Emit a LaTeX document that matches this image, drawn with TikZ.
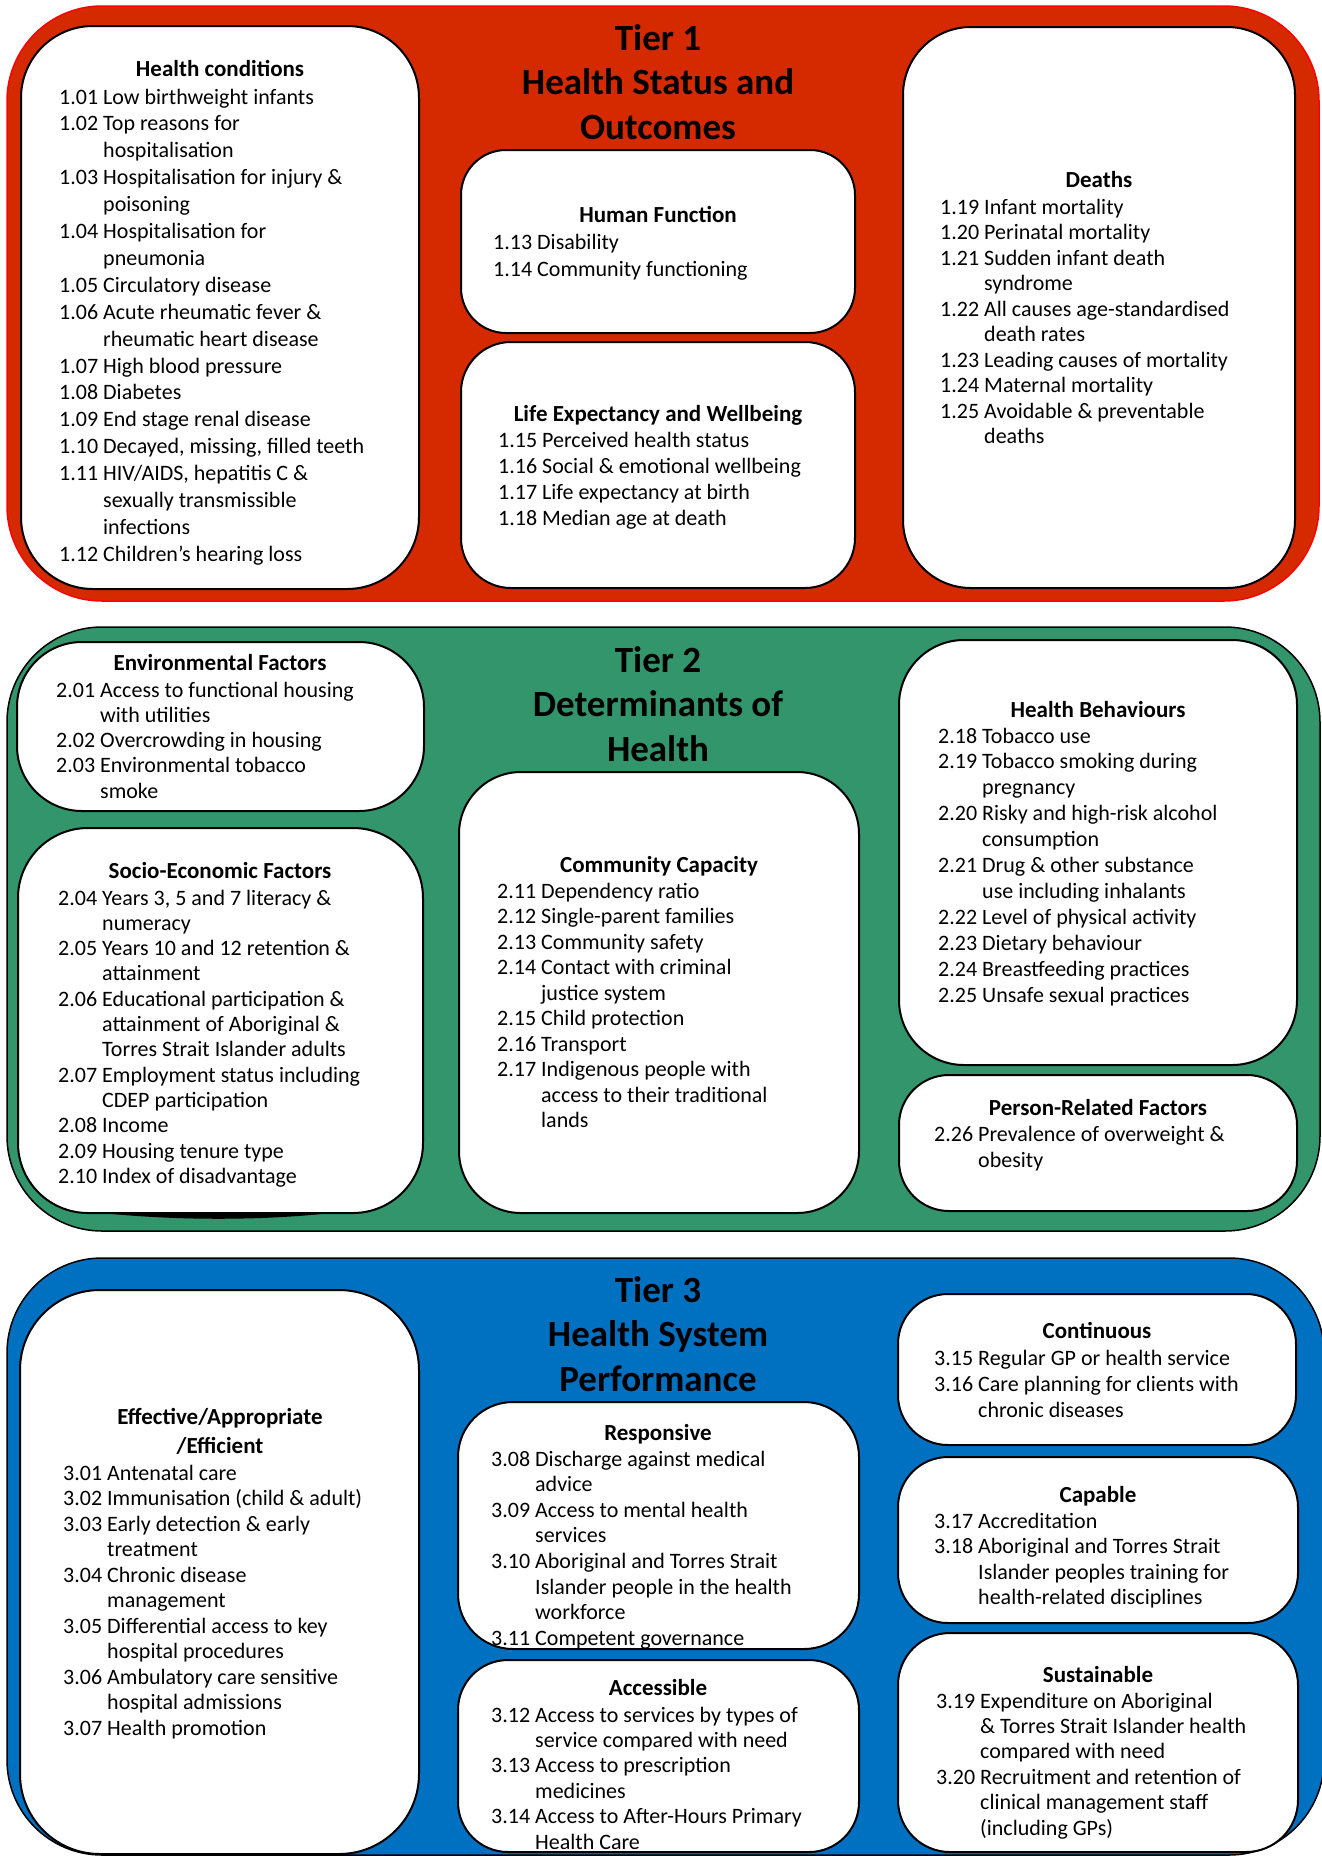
\documentclass[tikz,border=0pt]{standalone}
\usepackage{fontspec}
\setmainfont{Carlito}

\definecolor{tierred}{RGB}{213,41,0}
\definecolor{tiergreen}{RGB}{51,149,108}
\definecolor{tierblue}{RGB}{0,112,192}

\newcommand{\ilist}[1]{\begin{tabular}[t]{@{}l@{\hspace{5pt}}l@{}}#1\end{tabular}}
\newcommand{\stack}[1]{\begin{tabular}[t]{@{}c@{}}#1\end{tabular}}

\begin{document}
\begin{tikzpicture}[x=1pt,y=-1pt,
  tier/.style={line width=1.5pt,rounded corners=95pt},
  panel/.style={draw=black,fill=white,line width=2pt},
  head/.style={anchor=base,inner sep=0pt,font=\bfseries\fontsize{23}{29}\selectfont},
  items/.style={anchor=base west,inner sep=0pt,font=\fontsize{22}{#1}\selectfont},
  items/.default=25.5,
  title/.style={anchor=base,inner sep=0pt,font=\bfseries\fontsize{37}{44.5}\selectfont}]
  \useasboundingbox (0,0) rectangle (1322,1856);

  \draw[tier,fill=tierred,draw=red] (7,6) rectangle (1319,601);
  \draw[tier,fill=tiergreen,draw=black] (7,627) rectangle (1320,1231);
  \draw[tier,fill=tierblue,draw=black] (7,1258) rectangle (1324,1855);

  \node[title] (t1) at (658,50) {\stack{Tier 1\\Health Status and\\Outcomes}};
  \node[title] (t2) at (658,672) {\stack{Tier 2\\Determinants of\\Health}};
  \node[title] (t3) at (658,1302) {\stack{Tier 3\\Health System\\Performance}};

  % tier 1
  \draw[panel,rounded corners=72pt] (21,26) rectangle (419,589);
  \node[head] (hch) at (220,76) {Health conditions};
  \node[items=26.9] (hcl) at (59,104) {\ilist{
    1.01 & Low birthweight infants\\
    1.02 & Top reasons for\\
         & hospitalisation\\
    1.03 & Hospitalisation for injury \&\\
         & poisoning\\
    1.04 & Hospitalisation for\\
         & pneumonia\\
    1.05 & Circulatory disease\\
    1.06 & Acute rheumatic fever \&\\
         & rheumatic heart disease\\
    1.07 & High blood pressure\\
    1.08 & Diabetes\\
    1.09 & End stage renal disease\\
    1.10 & Decayed, missing, filled teeth\\
    1.11 & HIV/AIDS, hepatitis C \&\\
         & sexually transmissible\\
         & infections\\
    1.12 & Children's hearing loss}};

  \draw[panel,rounded corners=45pt] (461,150) rectangle (855,333);
  \node[head] (hfh) at (658,222) {Human Function};
  \node[items=27] (hfl) at (493,249) {\ilist{
    1.13 & Disability\\
    1.14 & Community functioning}};

  \draw[panel,rounded corners=50pt] (461,342) rectangle (855,588);
  \node[head] (leh) at (658,421) {Life Expectancy and Wellbeing};
  \node[items=26] (lel) at (498,447) {\ilist{
    1.15 & Perceived health status\\
    1.16 & Social \& emotional wellbeing\\
    1.17 & Life expectancy at birth\\
    1.18 & Median age at death}};

  \draw[panel,rounded corners=68pt] (903,27) rectangle (1295,588);
  \node[head] (dth) at (1099,187) {Deaths};
  \node[items=25.5] (dtl) at (940,214) {\ilist{
    1.19 & Infant mortality\\
    1.20 & Perinatal mortality\\
    1.21 & Sudden infant death\\
         & syndrome\\
    1.22 & All causes age-standardised\\
         & death rates\\
    1.23 & Leading causes of mortality\\
    1.24 & Maternal mortality\\
    1.25 & Avoidable \& preventable\\
         & deaths}};

  % tier 2
  \draw[panel,rounded corners=65pt] (17,642) rectangle (424,811);
  \node[head] (enh) at (220,670) {Environmental Factors};
  \node[items=25.3] (enl) at (56,697) {\ilist{
    2.01 & Access to functional housing\\
         & with utilities\\
    2.02 & Overcrowding in housing\\
    2.03 & Environmental tobacco\\
         & smoke}};

  \fill[black] (70,1209) .. controls (160,1222) and (280,1222) .. (360,1209) -- cycle;
  \draw[panel,rounded corners=70pt] (18,828) rectangle (423,1213);
  \node[head] (seh) at (220,878) {Socio-Economic Factors};
  \node[items=25.3] (sel) at (58,905) {\ilist{
    2.04 & Years 3, 5 and 7 literacy \&\\
         & numeracy\\
    2.05 & Years 10 and 12 retention \&\\
         & attainment\\
    2.06 & Educational participation \&\\
         & attainment of Aboriginal \&\\
         & Torres Strait Islander adults\\
    2.07 & Employment status including\\
         & CDEP participation\\
    2.08 & Income\\
    2.09 & Housing tenure type\\
    2.10 & Index of disadvantage}};

  \draw[panel,rounded corners=62pt] (459,772) rectangle (859,1213);
  \node[head] (cch) at (659,872) {Community Capacity};
  \node[items=25.5] (ccl) at (497,898) {\ilist{
    2.11 & Dependency ratio\\
    2.12 & Single-parent families\\
    2.13 & Community safety\\
    2.14 & Contact with criminal\\
         & justice system\\
    2.15 & Child protection\\
    2.16 & Transport\\
    2.17 & Indigenous people with\\
         & access to their traditional\\
         & lands}};

  \draw[panel,rounded corners=65pt] (899,640) rectangle (1297,1065);
  \node[head] (hbh) at (1098,717) {Health Behaviours};
  \node[items=25.9] (hbl) at (938,743) {\ilist{
    2.18 & Tobacco use\\
    2.19 & Tobacco smoking during\\
         & pregnancy\\
    2.20 & Risky and high-risk alcohol\\
         & consumption\\
    2.21 & Drug \& other substance\\
         & use including inhalants\\
    2.22 & Level of physical activity\\
    2.23 & Dietary behaviour\\
    2.24 & Breastfeeding practices\\
    2.25 & Unsafe sexual practices}};

  \draw[panel,rounded corners=50pt] (899,1075) rectangle (1297,1211);
  \node[head] (prh) at (1098,1115) {Person-Related Factors};
  \node[items=26] (prl) at (934,1141) {\ilist{
    2.26 & Prevalence of overweight \&\\
         & obesity}};

  % tier 3
  \draw[panel,rounded corners=80pt] (20,1290) rectangle (419,1854);
  \node[head] (efh) at (220,1424) {\stack{Effective/Appropriate\\/Efficient}};
  \node[items=25.5] (efl) at (63,1480) {\ilist{
    3.01 & Antenatal care\\
    3.02 & Immunisation (child \& adult)\\
    3.03 & Early detection \& early\\
         & treatment\\
    3.04 & Chronic disease\\
         & management\\
    3.05 & Differential access to key\\
         & hospital procedures\\
    3.06 & Ambulatory care sensitive\\
         & hospital admissions\\
    3.07 & Health promotion}};

  \draw[panel,rounded corners=55pt] (458,1402) rectangle (859,1649);
  \node[head] (rsh) at (658,1440) {Responsive};
  \node[items=25.6] (rsl) at (491,1466) {\ilist{
    3.08 & Discharge against medical\\
         & advice\\
    3.09 & Access to mental health\\
         & services\\
    3.10 & Aboriginal and Torres Strait\\
         & Islander people in the health\\
         & workforce\\
    3.11 & Competent governance}};

  \draw[panel,rounded corners=50pt] (458,1660) rectangle (859,1852);
  \node[head] (ach) at (658,1695) {Accessible};
  \node[items=25.4] (acl) at (491,1722) {\ilist{
    3.12 & Access to services by types of\\
         & service compared with need\\
    3.13 & Access to prescription\\
         & medicines\\
    3.14 & Access to After-Hours Primary\\
         & Health Care}};

  \draw[panel,rounded corners=50pt] (898,1294) rectangle (1296,1445);
  \node[head] (cnh) at (1097,1338) {Continuous};
  \node[items=26] (cnl) at (934,1365) {\ilist{
    3.15 & Regular GP or health service\\
    3.16 & Care planning for clients with\\
         & chronic diseases}};

  \draw[panel,rounded corners=50pt] (898,1457) rectangle (1298,1623);
  \node[head] (cph) at (1098,1502) {Capable};
  \node[items=25.6] (cpl) at (934,1528) {\ilist{
    3.17 & Accreditation\\
    3.18 & Aboriginal and Torres Strait\\
         & Islander peoples training for\\
         & health-related disciplines}};

  \draw[panel,rounded corners=52pt] (898,1633) rectangle (1298,1852);
  \node[head] (suh) at (1098,1682) {Sustainable};
  \node[items=25.4] (sul) at (936,1708) {\ilist{
    3.19 & Expenditure on Aboriginal\\
         & \& Torres Strait Islander health\\
         & compared with need\\
    3.20 & Recruitment and retention of\\
         & clinical management staff\\
         & (including GPs)}};
\end{tikzpicture}
\end{document}
